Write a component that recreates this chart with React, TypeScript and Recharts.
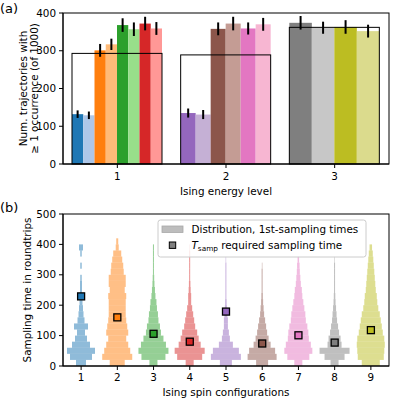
import { ComposedChart, Bar, Scatter, XAxis, YAxis } from "recharts";

const FONT = "'DejaVu Sans', sans-serif";
const FS = 10.4;

// (a) trajectories with at least one occurrence, per Ising energy level
const energyLevels = ["1", "2", "3"];
const levelTotals = [293, 289, 362];
const occurrences = [
  [132, 129, 301, 317, 368, 357, 372, 359],
  [135, 131, 358, 372, 359, 370],
  [374, 361, 363, 352],
];
const occurrenceErrors = [
  [10, 10, 17, 15, 18, 18, 18, 17],
  [12, 12, 17, 18, 16, 17],
  [18, 16, 18, 17],
];
const occurrenceColors = [
  ["#1f77b4", "#aec7e8", "#ff7f0e", "#ffbb78", "#2ca02c", "#98df8a", "#d62728", "#ff9896"],
  ["#9467bd", "#c5b0d5", "#8c564b", "#c49c94", "#e377c2", "#f7b6d2"],
  ["#7f7f7f", "#c7c7c7", "#bcbd22", "#dbdb8d"],
];

// (b) first-sampling time histograms, bins of 20 roundtrips starting at 0
const BIN = 20;
const MAX_COUNT = 30;
const spinConfigs = ["1", "2", "3", "4", "5", "6", "7", "8", "9"];
const histograms = [
  [10, 22, 28, 18, 12, 8, 14, 7, 5, 4, 3, 2.5, 2, 2, 1.5, 0, 1.5, 0, 1.5, 4],
  [15, 30, 26, 22, 18, 22, 20, 18, 17, 17, 17, 18, 15, 17, 17, 13, 12, 10, 8, 3, 2],
  [8, 24, 30, 25, 20, 15, 13, 10, 9, 7, 6, 4, 3, 2, 1.5, 1, 1, 1, 1, 1],
  [8, 25, 30, 22, 18, 15, 11, 9, 7, 5, 3, 3, 2, 1.5, 1, 1, 1, 1, 1, 0.5],
  [12, 30, 26, 14, 8, 6, 4, 4, 3, 2, 1.5, 1, 1, 1, 1, 1, 1, 0.5],
  [12, 29, 26, 17, 13, 10, 8, 6, 4, 3, 2, 1.5, 1, 1, 1, 1, 0.5],
  [8, 22, 28, 25, 21, 20, 18, 15, 14, 12, 10, 8, 7, 5, 4, 3, 2.5, 1.5],
  [8, 20, 30, 14, 12, 9, 7, 5, 4, 3, 2, 1.5, 1, 1, 1, 1, 1, 0.5],
  [18, 26, 27, 28, 27, 24, 22, 20, 18, 15, 13, 12, 10, 9, 8, 7, 6, 5, 4, 2.5],
];
const samplingTimes = [229, 160, 106, 80, 179, 74, 101, 77, 118];
const configColors = ["#1f77b4", "#ff7f0e", "#2ca02c", "#d62728", "#9467bd", "#8c564b", "#e377c2", "#7f7f7f", "#bcbd22"];

const levelRows = energyLevels.map((level, i) => ({
  level,
  total: levelTotals[i],
  values: occurrences[i],
  errors: occurrenceErrors[i],
  colors: occurrenceColors[i],
}));

const configRows = spinConfigs.map((cfg, i) => ({
  cfg,
  counts: histograms[i],
  top: histograms[i].length * BIN,
  tsamp: samplingTimes[i],
  color: configColors[i],
}));

const tickStyle = { fontSize: FS, fill: "#000", fontFamily: FONT };
const axisLine = { stroke: "#000", strokeWidth: 1 };

function LevelBars(props: any) {
  const { x, y, width, height, payload } = props;
  const vals: number[] = payload.values;
  const k = height / payload.total;
  const base = y + height;
  const w = width / vals.length;
  return (
    <g>
      {vals.map((v, i) => (
        <rect key={i} x={x + i * w} y={base - v * k} width={w} height={v * k} fill={payload.colors[i]} />
      ))}
      {vals.map((v, i) => (
        <line
          key={"e" + i}
          x1={x + (i + 0.5) * w}
          x2={x + (i + 0.5) * w}
          y1={base - (v + payload.errors[i]) * k}
          y2={base - (v - payload.errors[i]) * k}
          stroke="#000"
          strokeWidth={2}
        />
      ))}
      <rect x={x} y={y} width={width} height={height} fill="none" stroke="#000" strokeWidth={1} />
    </g>
  );
}

function Violin(props: any) {
  const { x, y, width, height, payload } = props;
  const counts: number[] = payload.counts;
  const k = height / payload.top;
  const base = y + height;
  const cx = x + width / 2;
  return (
    <g>
      {counts.map((c, i) =>
        c > 0 ? (
          <rect
            key={i}
            x={cx - ((c / MAX_COUNT) * width) / 2}
            y={base - (i + 1) * BIN * k}
            width={(c / MAX_COUNT) * width}
            height={BIN * k}
            fill={payload.color}
            fillOpacity={0.5}
          />
        ) : null
      )}
    </g>
  );
}

function SampMarker(props: any) {
  const { cx, cy, payload } = props;
  return <rect x={cx - 3.5} y={cy - 3.5} width={7} height={7} fill={payload.color} stroke="#000" strokeWidth={1.3} />;
}

export default function App() {
  return (
    <div style={{ position: "absolute", left: 0, top: 0, width: 398, height: 406, background: "#fff", fontFamily: FONT }}>
      <div style={{ position: "absolute", left: 0, top: 0 }}>
        <ComposedChart width={398} height={200} data={levelRows} margin={{ top: 13, right: 9, bottom: 0, left: 0 }}>
          <XAxis dataKey="level" height={36} tick={tickStyle} tickSize={4} tickMargin={5} axisLine={axisLine} tickLine={axisLine} />
          <YAxis
            type="number"
            width={63}
            domain={[0, 400]}
            ticks={[0, 100, 200, 300, 400]}
            tick={tickStyle}
            tickSize={4}
            tickMargin={3}
            axisLine={axisLine}
            tickLine={axisLine}
          />
          <Bar dataKey="total" barSize={90} shape={LevelBars} isAnimationActive={false} />
        </ComposedChart>
      </div>
      <div style={{ position: "absolute", left: 0, top: 200 }}>
        <ComposedChart width={398} height={206} data={configRows} margin={{ top: 14, right: 9, bottom: 0, left: 0 }}>
          <XAxis dataKey="cfg" height={40} tick={tickStyle} tickSize={4} tickMargin={3.5} axisLine={axisLine} tickLine={axisLine} />
          <YAxis
            type="number"
            width={63}
            domain={[0, 500]}
            ticks={[0, 100, 200, 300, 400, 500]}
            tick={tickStyle}
            tickSize={4}
            tickMargin={3}
            axisLine={axisLine}
            tickLine={axisLine}
          />
          <Bar dataKey="top" barSize={30} shape={Violin} isAnimationActive={false} />
          <Scatter dataKey="tsamp" shape={SampMarker} isAnimationActive={false} />
        </ComposedChart>
      </div>
      <svg width={398} height={406} style={{ position: "absolute", left: 0, top: 0, pointerEvents: "none" }} fontFamily={FONT}>
        <rect x={63} y={13} width={326} height={151} fill="none" stroke="#000" strokeWidth={1} />
        <rect x={63} y={214} width={326} height={152} fill="none" stroke="#000" strokeWidth={1} />
        <text x={0} y={13} fontSize={13} fill="#000">(a)</text>
        <text x={0} y={211.5} fontSize={13} fill="#000">(b)</text>
        <text x={26.5} y={88.5} transform="rotate(-90 26.5 88.5)" textAnchor="middle" fontSize={FS} fill="#000">
          Num. trajectories with
        </text>
        <text x={38} y={88.5} transform="rotate(-90 38 88.5)" textAnchor="middle" fontSize={FS} fill="#000">
          ≥ 1 occurrence (of 1000)
        </text>
        <text x={226} y={194.5} textAnchor="middle" fontSize={FS} fill="#000">Ising energy level</text>
        <text x={30.5} y={290} transform="rotate(-90 30.5 290)" textAnchor="middle" fontSize={FS} fill="#000">
          Sampling time in roundtrips
        </text>
        <text x={226} y={395.5} textAnchor="middle" fontSize={FS} fill="#000">Ising spin configurations</text>
        <rect x={158} y={220} width={208} height={37} rx={2.5} fill="#fff" fillOpacity={0.8} stroke="#cccccc" strokeWidth={1} />
        <rect x={162} y={226} width={21} height={6.5} fill="#bdbdbd" stroke="#a9a9a9" strokeWidth={0.8} />
        <text x={191.5} y={232.5} fontSize={FS} fill="#000">Distribution, 1st-sampling times</text>
        <rect x={169.3} y={242} width={6.4} height={6.4} fill="#7f7f7f" stroke="#000" strokeWidth={1} />
        <text x={191.5} y={249} fontSize={FS} fill="#000">
          <tspan fontStyle="italic">T</tspan>
          <tspan fontSize={7.3} dy={2}>samp</tspan>
          <tspan dy={-2}> required sampling time</tspan>
        </text>
      </svg>
    </div>
  );
}
